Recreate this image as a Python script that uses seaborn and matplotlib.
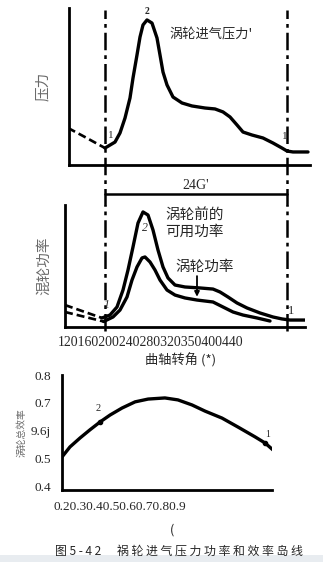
import numpy as np
import pandas as pd
import matplotlib
matplotlib.use("Agg")
import matplotlib.pyplot as plt
import seaborn as sns

# ---------------- data ----------------
# Panel 1: turbine inlet pressure vs crank angle (deg)
p_dash_x = [124.5, 150.0, 180.0]
p_dash_y = [23.6, 17.8, 10.8]
p_x = [180, 187.5, 195, 202.5, 210, 217.5, 222, 228, 232.5, 237, 243, 250.5, 258, 262.5, 267,
       273, 282, 295.5, 310.5, 330, 345, 357, 367.5, 378, 387, 400.5, 417, 432, 445.5, 453, 462, 484.5]
p_y = [10.8, 12.7, 14.6, 20.4, 29.9, 42.7, 55.4, 70.1, 81.5, 89.2, 92.4, 90.4, 80.9, 70.1, 59.2,
       51.0, 43.3, 39.5, 37.6, 36.3, 35.7, 33.8, 30.6, 25.5, 21.0, 19.1, 17.2, 14.0, 10.8, 8.9, 8.3, 8.3]

# Panel 2: available power before turbine and turbine power
avail_dash_x = [120, 175.5]
avail_dash_y = [18.0, 7.4]
avail_x = [175.5, 187.5, 198, 207, 214.5, 222, 229.5, 237, 244.5, 252, 259.5, 267, 274.5, 285,
           300, 322.5, 342, 352.5, 364.5, 378, 393, 412.5, 432, 445.5, 457.5, 483]
avail_y = [7.4, 9.8, 16.4, 30.3, 46.7, 65.6, 85.2, 94.3, 91.8, 79.5, 63.1, 49.2, 40.2, 34.4,
           32.8, 32.0, 31.1, 28.7, 24.6, 19.7, 15.6, 11.5, 8.2, 6.6, 5.7, 5.7]
turb_dash_x = [120, 178]
turb_dash_y = [12.3, 4.5]
turb_x = [178, 192, 202.5, 213, 220.5, 228, 235.5, 240, 247.5, 255, 262.5, 273, 285, 300, 318,
          342, 357, 372, 387, 408, 427.5]
turb_y = [4.5, 8.2, 13.9, 24.6, 38.5, 49.2, 56.6, 57.4, 53.3, 46.7, 38.5, 30.3, 26.2, 23.8, 22.1,
          20.5, 16.4, 12.3, 9.8, 7.4, 4.9]

# Panel 3: turbine total efficiency
eff_x = [0.0, 0.038, 0.086, 0.133, 0.181, 0.229, 0.286, 0.348, 0.410, 0.490, 0.552, 0.619,
         0.681, 0.762, 0.838, 0.919, 0.967, 1.005]
eff_y = [0.507, 0.543, 0.575, 0.604, 0.632, 0.657, 0.682, 0.704, 0.714, 0.718, 0.711, 0.693,
         0.671, 0.646, 0.614, 0.579, 0.557, 0.532]
eff_ticks = [0.4, 0.5, 0.6, 0.7, 0.8]
eff_ticklabels = ["0.4", "0.5", "9.6j", "0.7", "0.8"]

crank_ticklabel = "120160200240280320350400440"
ratio_ticklabel = "0.20.30.40.50.60.70.80.9"
marks_deg = [180, 453]

# ---------------- style ----------------
sns.set_style("white")
plt.rcParams["font.family"] = ["Noto Sans CJK SC", "DejaVu Sans"]
SERIF = ["Liberation Serif", "DejaVu Serif"]
CJK = ["Noto Sans CJK SC", "DejaVu Sans"]

W, H = 323, 562
fig = plt.figure(figsize=(W / 100, H / 100), dpi=100)


def ax_at(x0, x1, y0, y1):
    return fig.add_axes([x0 / W, 1 - y1 / H, (x1 - x0) / W, (y1 - y0) / H])


def style_axes(ax):
    for s in ["top", "right"]:
        ax.spines[s].set_visible(False)
    for s in ["left", "bottom"]:
        ax.spines[s].set_linewidth(2.0)
        ax.spines[s].set_color("black")
    ax.set_facecolor("none")


LW = 2.4
DASH = (0, (3, 1.5))
DASHDOT = (0, (7, 2, 1.5, 2))

# ---------------- panel 1 ----------------
ax1 = ax_at(69, 310, 8, 165)
sns.lineplot(x=p_dash_x, y=p_dash_y, ax=ax1, color="black", lw=LW * 0.8, linestyle=DASH)
sns.lineplot(x=p_x, y=p_y, ax=ax1, color="black", lw=LW, sort=False)
ax1.set_xlim(126, 487.5)
ax1.set_ylim(0, 100)
style_axes(ax1)
ax1.set_xticks([]); ax1.set_yticks([])
for xd in marks_deg:
    ax1.axvline(xd, ymin=-0.26, ymax=0.99, color="black", lw=1.8,
                linestyle=DASHDOT, clip_on=False)
ax1.text(243, 97.5, "2", fontsize=7, family=SERIF, ha="center", va="center", fontweight="bold")
ax1.text(188, 19, "1", fontsize=8, family=SERIF, ha="center", va="center")
ax1.text(450, 18, "1", fontsize=8, family=SERIF, ha="center", va="center")
ax1.text(277, 82.8, "涡轮进气压力'", fontsize=9.5, family=CJK, ha="left", va="center")
ax1.set_ylabel("压力", fontsize=10.5, color="#6a6a6a", labelpad=14)
# 24G' dimension
ax1.plot(marks_deg, [-0.185, -0.185], transform=ax1.get_xaxis_transform(),
         color="black", lw=1.8, clip_on=False)
ax1.text(sum(marks_deg) / 2, -0.13, "24G'", transform=ax1.get_xaxis_transform(),
         fontsize=10, family=SERIF, ha="center", va="center")

# ---------------- panel 2 ----------------
ax2 = ax_at(65, 305, 205, 327)
sns.lineplot(x=avail_dash_x, y=avail_dash_y, ax=ax2, color="black", lw=LW * 0.8, linestyle=DASH)
sns.lineplot(x=turb_dash_x, y=turb_dash_y, ax=ax2, color="black", lw=LW * 0.8, linestyle=DASH)
sns.lineplot(x=avail_x, y=avail_y, ax=ax2, color="black", lw=LW, sort=False)
sns.lineplot(x=turb_x, y=turb_y, ax=ax2, color="black", lw=LW, sort=False)
ax2.set_xlim(120, 480)
ax2.set_ylim(0, 100)
style_axes(ax2)
ax2.set_xticks([]); ax2.set_yticks([])
for xd in marks_deg:
    ax2.axvline(xd, ymin=-0.03, ymax=1, color="black", lw=1.8,
                linestyle=DASHDOT, clip_on=False)
ax2.text(240, 81, "2", fontsize=8.5, family=SERIF, ha="center", va="center", style="italic", color="#333333")
ax2.text(183, 18, "1", fontsize=8.5, family=SERIF, ha="center", va="center", style="italic")
ax2.text(459, 13, "1", fontsize=9, family=SERIF, ha="center", va="center")
ax2.text(270, 85, "涡轮前的\n可用功率", fontsize=10.5, family=CJK, ha="left", va="center", linespacing=1.25)
ax2.text(285, 49, "涡轮功率", fontsize=10.5, family=CJK, ha="left", va="center")
ax2.annotate("", xy=(318, 22.5), xytext=(318, 44),
             arrowprops=dict(arrowstyle="-|>", color="black", lw=1.3, mutation_scale=7))
ax2.set_ylabel("混轮功率", fontsize=10.5, color="#6a6a6a", labelpad=10)
fig.text(150.5 / W, 1 - 343 / H, crank_ticklabel, fontsize=9.9, family=SERIF, ha="center", va="center")
fig.text(181 / W, 1 - 360 / H, "曲轴转角 (*)", fontsize=9.5, family=CJK, ha="center", va="center")

# ---------------- panel 3 ----------------
ax3 = ax_at(62, 272, 375, 490)
sns.lineplot(x=eff_x, y=eff_y, ax=ax3, color="black", lw=LW, sort=False)
ax3.set_xticks([])
ax3.set_yticks(eff_ticks)
ax3.set_yticklabels(eff_ticklabels, family=SERIF, fontsize=9.5)
ax3.set_xlim(0, 1)
ax3.set_ylim(0.389, 0.80)
style_axes(ax3)
ax3.tick_params(axis="y", length=0, pad=8)
ax3.scatter([eff_x[4], eff_x[16]], [eff_y[4], eff_y[16]],
            marker="o", s=9, color="black", zorder=5)
ax3.text(0.171, 0.682, "2", fontsize=7.5, family=SERIF, ha="center", va="center")
ax3.text(0.98, 0.589, "1", fontsize=7, family=SERIF, ha="center", va="center")
ax3.set_ylabel("涡轮总效率", fontsize=7, color="#6a6a6a", labelpad=3)
fig.text(120 / W, 1 - 507 / H, ratio_ticklabel, fontsize=9.5, family=SERIF, ha="center", va="center")

# ---------------- caption ----------------
fig.text(172 / W, 1 - 530 / H, "(", fontsize=9, family=CJK, ha="center", va="center")
fig.text(55 / W, 1 - 551 / H, "图 5 - 4 2      祸 轮 进 气 压 力 功 率 和 效 率 岛 线",
         fontsize=8.6, family=CJK, ha="left", va="center")
fig.patches.append(plt.Rectangle((0, 0), 1, 7 / H, transform=fig.transFigure,
                                 facecolor="#e8ecf0", edgecolor="none"))

fig.savefig("out.png", dpi=100)
